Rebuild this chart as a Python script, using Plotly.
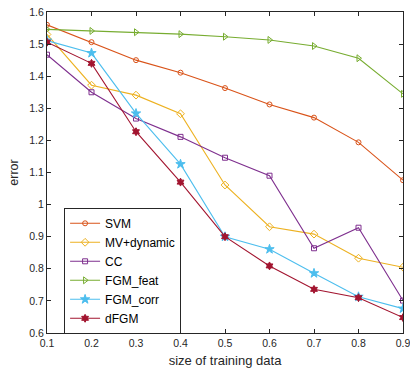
import plotly.graph_objects as go

x_vals = [0.1, 0.2, 0.3, 0.4, 0.5, 0.6, 0.7, 0.8, 0.9]
svm = [1.560, 1.506, 1.450, 1.411, 1.363, 1.312, 1.271, 1.194, 1.076]
mv_dynamic = [1.530, 1.372, 1.341, 1.283, 1.061, 0.931, 0.908, 0.833, 0.805]
cc = [1.467, 1.350, 1.268, 1.211, 1.146, 1.090, 0.864, 0.928, 0.701]
fgm_feat = [1.546, 1.541, 1.537, 1.531, 1.523, 1.513, 1.494, 1.456, 1.345]
fgm_corr = [1.511, 1.472, 1.284, 1.126, 0.900, 0.861, 0.786, 0.713, 0.676]
dfgm = [1.506, 1.440, 1.227, 1.070, 0.900, 0.809, 0.736, 0.710, 0.648]

names = ["SVM", "MV+dynamic", "CC", "FGM_feat", "FGM_corr", "dFGM"]
series = [svm, mv_dynamic, cc, fgm_feat, fgm_corr, dfgm]
colors = ["#D95319", "#EDB120", "#7E2F8E", "#77AC30", "#4DBEEE", "#A2142F"]
symbols = ["circle-open", "diamond-open", "square-open", "triangle-right-open", "star", "hexagram"]
sizes = [5, 6, 5, 6, 7, 6]

fig = go.Figure()
for n, s, c, m, sz in zip(names, series, colors, symbols, sizes):
    fig.add_trace(go.Scatter(
        x=x_vals, y=s, name=n, mode="lines+markers",
        line=dict(color=c, width=1.1),
        marker=dict(symbol=m, size=sz, color=c, line=dict(color=c, width=1)),
    ))

axis_common = dict(
    showgrid=False, zeroline=False, showline=True, mirror="ticks",
    linecolor="#262626", linewidth=1, ticks="inside", ticklen=4,
    tickcolor="#262626", tickfont=dict(size=10.5, color="#262626"),
    automargin=False, ticklabeloverflow="allow",
)
fig.update_layout(
    template="none",
    width=410, height=369,
    margin=dict(l=47, r=7, t=12, b=36, pad=0),
    paper_bgcolor="white", plot_bgcolor="white",
    font=dict(family="Liberation Sans, Arial, sans-serif", color="#262626"),
    xaxis=dict(range=[0.1, 0.9], tickvals=[0.1, 0.2, 0.3, 0.4, 0.5, 0.6, 0.7, 0.8, 0.9],
               ticktext=["0.1", "0.2", "0.3", "0.4", "0.5", "0.6", "0.7", "0.8", "0.9"],
               title=dict(text="size of training data", font=dict(size=13), standoff=8),
               **axis_common),
    yaxis=dict(range=[0.6, 1.6], tickvals=[0.6, 0.7, 0.8, 0.9, 1.0, 1.1, 1.2, 1.3, 1.4, 1.5, 1.6],
               ticktext=["0.6", "0.7", "0.8", "0.9", "1", "1.1", "1.2", "1.3", "1.4", "1.5", "1.6"],
               title=dict(text="error", font=dict(size=12.5), standoff=7),
               **axis_common),
    legend=dict(x=0.048, y=0.39, xanchor="left", yanchor="top",
                bgcolor="white", bordercolor="#262626", borderwidth=1,
                font=dict(size=12, color="#000000"), tracegroupgap=0,
                itemwidth=30),
    showlegend=True,
)

fig.write_html("out.html", config={"displayModeBar": False},
               post_script="document.body.style.margin='0';document.body.style.overflow='hidden';")
